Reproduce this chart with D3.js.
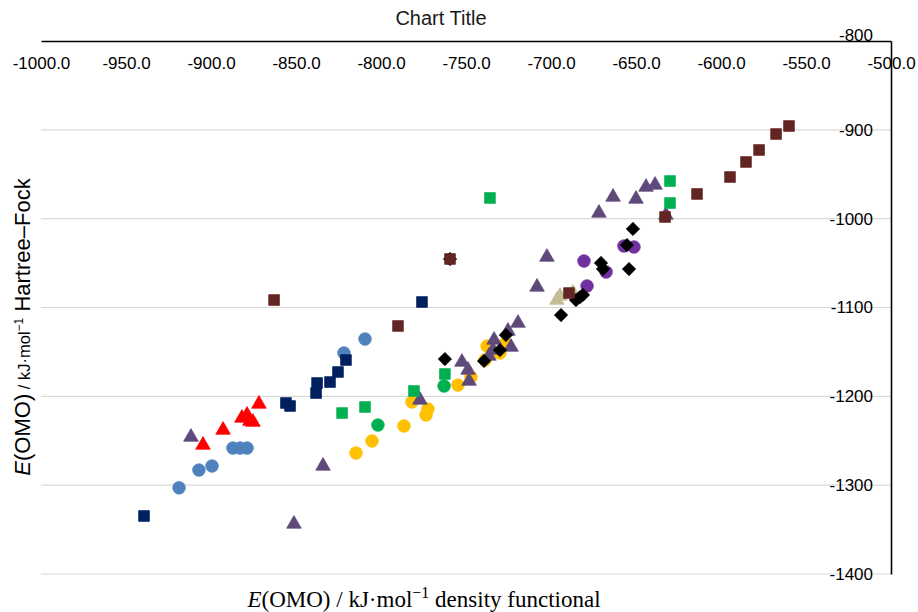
<!DOCTYPE html>
<html>
<head>
<meta charset="utf-8">
<script src="https://cdn.jsdelivr.net/npm/d3@7"></script>
<style>
  html, body { margin: 0; padding: 0; background: #fff; }
  svg { display: block; }
</style>
</head>
<body>
<div id="chart"></div>
<script>
// values: [density functional, Hartree–Fock] in kJ/mol
const blueCircles = [[-918.8,-1303],[-907.1,-1283],[-899.4,-1278.4],[-887.1,-1258.2],[-882.9,-1258.2],[-878.8,-1258.2],[-821.8,-1151.2],[-809.4,-1135.5]];
const goldCircles = [[-814.7,-1263.8],[-805.3,-1250.3],[-786.5,-1233.4],[-781.8,-1206.4],[-773.5,-1221],[-772.4,-1214.3],[-754.7,-1187.3],[-747.1,-1178.3],[-738.8,-1159.1],[-737.6,-1143.4],[-730,-1151.2],[-727.1,-1141.1]];
const greenCircles = [[-801.8,-1232.3],[-762.9,-1188.4]];
const purpleCircles = [[-680.6,-1047.7],[-678.8,-1075.8],[-667.6,-1060],[-657.1,-1030.8],[-651.2,-1031.9]];
const tanTriangles = [[-696.5,-1091.6],[-694.7,-1087.1],[-687.1,-1083.7]];
const purpleTriangles = [[-911.8,-1245.8],[-851.2,-1343.7],[-834.1,-1278.4],[-777.1,-1204.1],[-752.4,-1161.4],[-748.8,-1170.4],[-748.2,-1182.8],[-736.5,-1154.6],[-734.1,-1147.9],[-733.5,-1136.6],[-725.3,-1126.5],[-723.5,-1144.5],[-719.4,-1117.5],[-708.2,-1076.9],[-702.4,-1043.2],[-671.8,-993.6],[-663.5,-975.6],[-650,-977.9],[-644.1,-964.4],[-638.8,-962.1],[-632.4,-995.9]];
const blackDiamonds = [[-762.4,-1158],[-759.4,-1045.4],[-739.4,-1160.2],[-730,-1147.9],[-726.5,-1131],[-694.1,-1108.5],[-685.3,-1091.6],[-682.9,-1088.2],[-681.2,-1085.9],[-670.6,-1049.9],[-669.4,-1056.7],[-655.3,-1029.7],[-654.1,-1056.7],[-651.8,-1011.6]];
const redTriangles = [[-904.7,-1254.8],[-892.9,-1237.9],[-881.8,-1224.4],[-878.8,-1221],[-877.1,-1227.8],[-875.3,-1229],[-871.8,-1208.6]];
const greenSquares = [[-822.9,-1218.8],[-809.4,-1212],[-780.6,-1194],[-762.4,-1174.9],[-735.9,-976.7],[-630,-957.6],[-630,-982.4]];
const navySquares = [[-939.4,-1334.7],[-855.9,-1207.5],[-853.5,-1210.9],[-838.2,-1196.3],[-837.6,-1185],[-830,-1183.9],[-825.3,-1172.6],[-820.6,-1159.1],[-775.9,-1093.8]];
const maroonSquares = [[-862.9,-1091.6],[-790,-1120.8],[-759.4,-1045.4],[-689.4,-1083.7],[-632.9,-998.1],[-614.1,-972.2],[-594.7,-953.1],[-585.3,-936.2],[-577.6,-922.7],[-567.6,-904.7],[-560,-895.7]];

const xTicks = [-1000, -950, -900, -850, -800, -750, -700, -650, -600, -550, -500];
const yTicks = [-800, -900, -1000, -1100, -1200, -1300, -1400];

// drawing order, bottom to top
const series = [
  { data: blueCircles, shape: "circle", color: "#4f81bd" },
  { data: goldCircles, shape: "circle", color: "#ffc000" },
  { data: greenCircles, shape: "circle", color: "#00b050" },
  { data: purpleCircles, shape: "circle", color: "#7030a0" },
  { data: tanTriangles, shape: "triangle", color: "#c4bd97" },
  { data: purpleTriangles, shape: "triangle", color: "#5f497a" },
  { data: blackDiamonds, shape: "diamond", color: "#000000" },
  { data: redTriangles, shape: "triangle", color: "#ff0000" },
  { data: greenSquares, shape: "square", color: "#00b050" },
  { data: navySquares, shape: "square", color: "#002060" },
  { data: maroonSquares, shape: "square", color: "#632523" },
];

const W = 918, H = 612;
const plot = { left: 41, right: 891, top: 41, bottom: 574 };
const SANS = "'Liberation Sans', Arial, sans-serif";
const SERIF = "'Liberation Serif', 'Times New Roman', serif";

const svg = d3.select("#chart").append("svg")
  .attr("width", W).attr("height", H)
  .attr("viewBox", `0 0 ${W} ${H}`);

const x = d3.scaleLinear().domain([-1000, -500]).range([plot.left, plot.right]);
const y = d3.scaleLinear().domain([-800, -1400]).range([plot.top, plot.bottom]);

// horizontal gridlines
svg.append("g").selectAll("line")
  .data(yTicks.slice(1))
  .join("line")
  .attr("x1", plot.left).attr("x2", plot.right)
  .attr("y1", d => y(d)).attr("y2", d => y(d))
  .attr("stroke", "#d9d9d9").attr("stroke-width", 1.2);

// x axis sits at the top (y = -800), labels underneath the line
svg.append("g")
  .attr("transform", `translate(0,${plot.top})`)
  .call(d3.axisBottom(x).tickValues(xTicks).tickSize(0).tickSizeOuter(0).tickPadding(16)
    .tickFormat(d => d.toFixed(1)))
  .call(g => g.select(".domain").attr("stroke", "#000").attr("stroke-width", 1.6))
  .call(g => g.selectAll(".tick text").attr("fill", "#000")
    .attr("font-family", SANS).attr("font-size", 17));

// y axis sits at the right (x = -500), labels inside the plot
svg.append("g")
  .attr("transform", `translate(${plot.right},0)`)
  .call(d3.axisLeft(y).tickValues(yTicks).tickSize(0).tickSizeOuter(0).tickPadding(18)
    .tickFormat(d => String(d)))
  .call(g => g.select(".domain").attr("stroke", "#000").attr("stroke-width", 1.6))
  .call(g => g.selectAll(".tick text").attr("fill", "#000")
    .attr("font-family", SANS).attr("font-size", 17)
    .attr("dy", d => d === -800 ? "-0.05em" : "0.32em"));

const shapes = {
  circle: d3.symbol().type(d3.symbolCircle).size(125),
  square: d3.symbol().type(d3.symbolSquare).size(115),
  triangle: d3.symbol().type(d3.symbolTriangle).size(92),
  diamond: d3.symbol().type(d3.symbolSquare).size(88),
};

series.forEach(s => {
  svg.append("g").selectAll("path")
    .data(s.data)
    .join("path")
    .attr("d", shapes[s.shape])
    .attr("transform", d => {
      const t = `translate(${x(d[0])},${y(d[1])})`;
      return s.shape === "diamond" ? t + " rotate(45)" : t;
    })
    .attr("fill", s.color)
    .attr("stroke", s.color).attr("stroke-width", 0.75);
});

svg.append("text")
  .attr("x", 441).attr("y", 25)
  .attr("text-anchor", "middle")
  .attr("font-family", SANS).attr("font-size", 20).attr("fill", "#1a1a1a")
  .text("Chart Title");

// y title, rotated
const yTitle = svg.append("text")
  .attr("transform", "translate(30,327) rotate(-90)")
  .attr("text-anchor", "middle")
  .attr("font-family", SANS).attr("font-size", 22).attr("fill", "#000");
yTitle.append("tspan").attr("font-style", "italic").text("E");
yTitle.append("tspan").text("(OMO)");
yTitle.append("tspan").attr("font-size", 16.5).text(" / kJ·mol");
yTitle.append("tspan").attr("font-size", 12).attr("dy", -7).text("−1");
yTitle.append("tspan").attr("dy", 7).text(" Hartree–Fock");

// x title
const xTitle = svg.append("text")
  .attr("x", 424).attr("y", 607)
  .attr("text-anchor", "middle")
  .attr("font-family", SERIF).attr("font-size", 23).attr("fill", "#000");
xTitle.append("tspan").attr("font-style", "italic").text("E");
xTitle.append("tspan").text("(OMO) / kJ·mol");
xTitle.append("tspan").attr("font-size", 16).attr("dy", -9).text("−1");
xTitle.append("tspan").attr("dy", 9).text(" density functional");
</script>
</body>
</html>
